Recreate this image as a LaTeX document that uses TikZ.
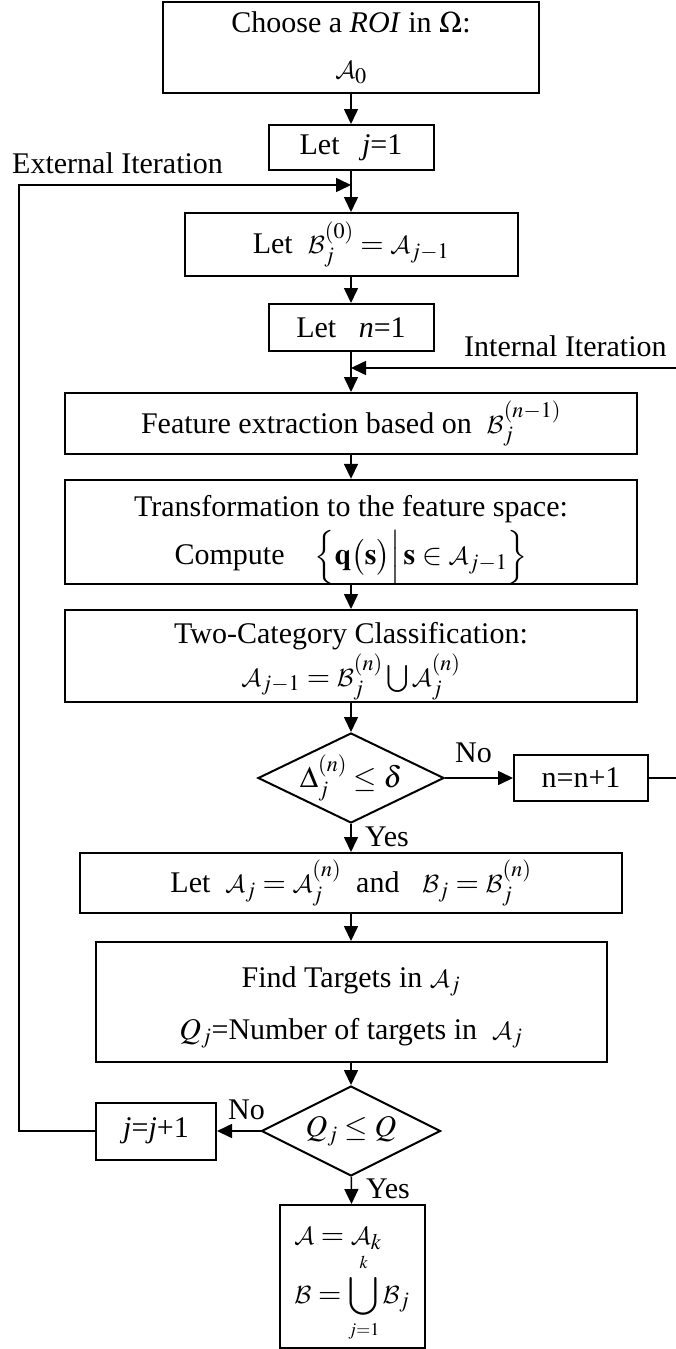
\documentclass[tikz,border=0pt]{standalone}
\usepackage{mathptmx}
\DeclareMathAlphabet{\mathcal}{OMS}{cmsy}{m}{n}
\usepackage[no-math]{fontspec}
\setmainfont{Liberation Serif}
\usetikzlibrary{arrows.meta,shapes.geometric}
\newcommand\flowfont{\fontsize{30}{36}\selectfont}
% invisible strut that sets the height of a first text line
\newcommand\toprule[1]{\rule{0pt}{#1}}
\begin{document}
\begin{tikzpicture}[x=1pt,y=-1pt,
  box/.style={draw, line width=2pt, inner sep=0pt, align=center, font=\flowfont},
  decision/.style={draw, diamond, line width=2pt, inner sep=0pt, minimum width=186pt, minimum height=90pt},
  label/.style={font=\flowfont, inner sep=0pt, anchor=base west},
  conn/.style={line width=1.6pt, -{Triangle[length=15pt,width=14pt]}}]
\useasboundingbox (0,0) rectangle (675,1349);

% main column
\node[box, minimum width=376pt, minimum height=91pt] (b1) at (351,47.5)
  {Choose a \textit{ROI} in $\Omega$:\\[10pt] $\mathcal{A}_0$};
\node[box, minimum width=165pt, minimum height=45pt] (b2) at (351,147.5)
  {Let\ \ \ \textit{j}=1};
\node[box, minimum width=333pt, minimum height=63pt] (b3) at (351,244.5)
  {Let\ \ $\mathcal{B}_j^{(0)} = \mathcal{A}_{j-1}$};
\node[box, minimum width=165pt, minimum height=47pt] (b4) at (351,327.5)
  {Let\ \ \ \textit{n}=1};
\node[box, minimum width=572pt, minimum height=61pt] (b5) at (351,423.5)
  {Feature extraction based on\ \ $\mathcal{B}_j^{(n-1)}$};
\node[box, minimum width=572pt, minimum height=100pt] (b6) at (351,532)
  {\toprule{37pt}Transformation to the feature space:\\[6pt]
   Compute\quad $\Bigl\{\mathbf{q}\bigl(\mathbf{s}\bigr)\Big|\,\mathbf{s}\in\mathcal{A}_{j-1}\Bigr\}$};
\node[box, minimum width=572pt, minimum height=92pt] (b7) at (351,656)
  {\toprule{31pt}Two-Category Classification:\\[3pt]
   $\mathcal{A}_{j-1} = \mathcal{B}_j^{(n)}\, {\textstyle\bigcup}\, \mathcal{A}_j^{(n)}$};
\node[decision] (d1) at (351,778) {};
\node[font=\flowfont, inner sep=0pt] (d1t) at (351,778) {$\Delta_j^{(n)} \le \delta$};
\node[box, minimum width=134pt, minimum height=46pt] (bn) at (581,778) {n=n+1};
\node[box, minimum width=542pt, minimum height=60pt] (b8) at (351,883)
  {Let\ \ $\mathcal{A}_j = \mathcal{A}_j^{(n)}$\ \ and\ \ \ $\mathcal{B}_j = \mathcal{B}_j^{(n)}$};
\node[box, minimum width=511pt, minimum height=120pt] (b9) at (351,1002)
  {\toprule{32pt}Find Targets in $\mathcal{A}_j$\\[16pt]
   $Q_j$=Number of targets in\ \ $\mathcal{A}_j$};
\node[decision, minimum width=179pt] (d2) at (351,1131) {};
\node[font=\flowfont, inner sep=0pt] (d2t) at (351,1131) {$Q_j \le Q$};
\node[box, minimum width=120pt, minimum height=57pt] (bj) at (156,1131)
  {\textit{j}=\textit{j}+1};
\node[box, minimum width=145pt, minimum height=143pt, align=left] (bf) at (352,1276.5)
  {\toprule{34pt}$\mathcal{A} = \mathcal{A}_k$\\[2pt]
   $\displaystyle\mathcal{B} = \bigcup\limits_{\scriptscriptstyle j=1}^{\scriptscriptstyle k}\mathcal{B}_j$};

% loop labels and branch labels
\node[label] (extlab) at (12,173) {External Iteration};
\node[label] (intlab) at (464,356) {Internal Iteration};
\node[label] (no1) at (455,762) {No};
\node[label] (yes1) at (365,846) {Yes};
\node[label] (no2) at (228,1119) {No};
\node[label] (yes2) at (366,1198) {Yes};

% junction points of the two loops
\coordinate (ej) at (351,185);
\coordinate (ij) at (351,368);
\coordinate (extL) at (19,1131);
\coordinate (intR) at (677,778);

% connectors
\draw[conn] (b1) -- (b2);
\draw[conn] (b2) -- (b3);
\draw[conn] (b3) -- (b4);
\draw[conn] (b4) -- (b5);
\draw[conn] (b5) -- (b6);
\draw[conn] (b6) -- (b7);
\draw[conn] (b7) -- (d1);
\draw[conn] (d1) -- (b8);
\draw[conn] (d1.east) -- (bn.west);
\draw[conn] (b8) -- (b9);
\draw[conn] (b9) -- (d2);
\draw[conn] (d2.west) -- (bj.east);
\draw[conn] (d2) -- (bf);
\draw[conn] (bj.west) -- (extL) |- (ej);
\draw[conn] (bn.east) -- (intR) |- (ij);
\end{tikzpicture}
\end{document}
